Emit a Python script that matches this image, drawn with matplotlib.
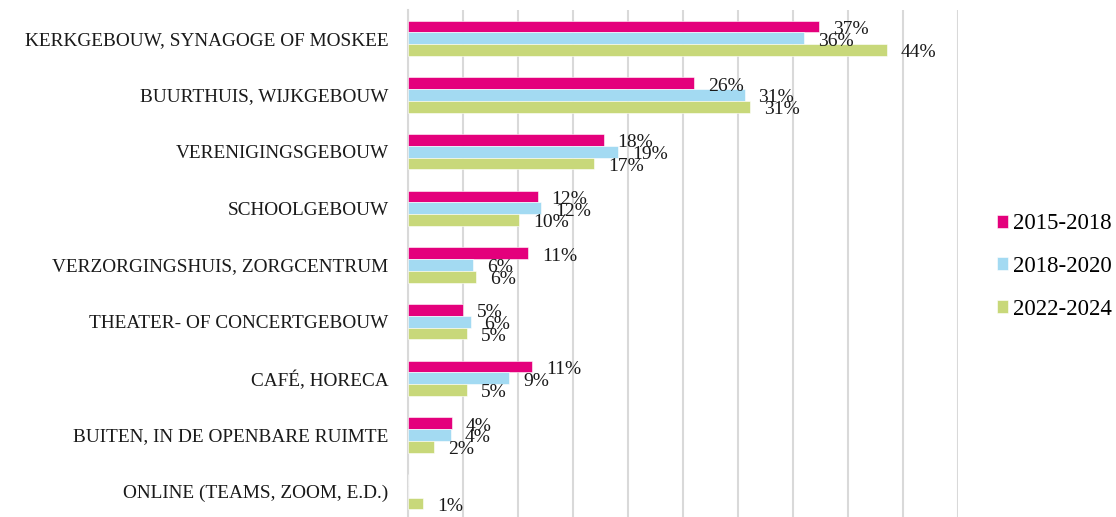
import numpy as np
import matplotlib
matplotlib.use("Agg")
import matplotlib.pyplot as plt

# data (percentages)
categories = [
    "KERKGEBOUW, SYNAGOGE OF MOSKEE",
    "BUURTHUIS, WIJKGEBOUW",
    "VERENIGINGSGEBOUW",
    "SCHOOLGEBOUW",
    "VERZORGINGSHUIS, ZORGCENTRUM",
    "THEATER- OF CONCERTGEBOUW",
    "CAFÉ, HORECA",
    "BUITEN, IN DE OPENBARE RUIMTE",
    "ONLINE (TEAMS, ZOOM, E.D.)",
]
periods = ["2015-2018", "2018-2020", "2022-2024"]
vals_2015_2018 = [37.4, 26.0, 17.8, 11.8, 10.9, 5.0, 11.3, 4.0, 0]
vals_2018_2020 = [36.0, 30.6, 19.1, 12.1, 5.9, 5.7, 9.2, 3.9, 0]
vals_2022_2024 = [43.5, 31.1, 16.9, 10.1, 6.2, 5.4, 5.4, 2.4, 1.4]
colors = ["#E4007C", "#A3DAF2", "#C8D87A"]

plt.rcParams['font.family'] = ['Liberation Serif', 'DejaVu Serif']
FS = 14

fig = plt.figure(figsize=(11.16, 5.17), dpi=100)
ax = fig.add_axes([408 / 1116, 0, 550 / 1116, 1 - 10 / 517])

y = np.arange(len(categories))
h = 0.206
series = [vals_2015_2018, vals_2018_2020, vals_2022_2024]
for i, (vals, lab, col) in enumerate(zip(series, periods, colors)):
    pos = y + (i - 1) * h
    ax.barh(pos, vals, height=h, color=col, edgecolor='white', linewidth=0.4, label=lab, zorder=3)
    for p, v in zip(pos, vals):
        if v > 0:
            ax.annotate("%.0f%%" % v, (v, p), xytext=(10, -2), textcoords='offset points',
                        ha='left', va='center', fontsize=FS, color='#1a1a1a', zorder=4)

ax.set_xlim(0, 50)
ax.set_ylim(8.5 - 3 / 56.6, -0.5)
ax.set_xticks(np.arange(0, 51, 5))
ax.set_xticklabels([])
ax.tick_params(axis='x', length=0)
ax.tick_params(axis='y', length=0, pad=14, labelsize=13.9)
ax.set_yticks(y)
ax.set_yticklabels(categories, color='#1a1a1a')
ax.grid(axis='x', color='#d9d9d9', linewidth=1.5, zorder=0)
for s in ['top', 'right', 'bottom']:
    ax.spines[s].set_visible(False)
ax.spines['left'].set_color('#d9d9d9')
ax.spines['left'].set_linewidth(1.5)

fig.legend(loc='center left', bbox_to_anchor=(997 / 1116, 0.4845), frameon=False,
           fontsize=16.5, handlelength=0.5, handleheight=0.5, handletextpad=0.22,
           labelspacing=0.94, borderpad=0, borderaxespad=0)

fig.savefig("out.png", dpi=100)
